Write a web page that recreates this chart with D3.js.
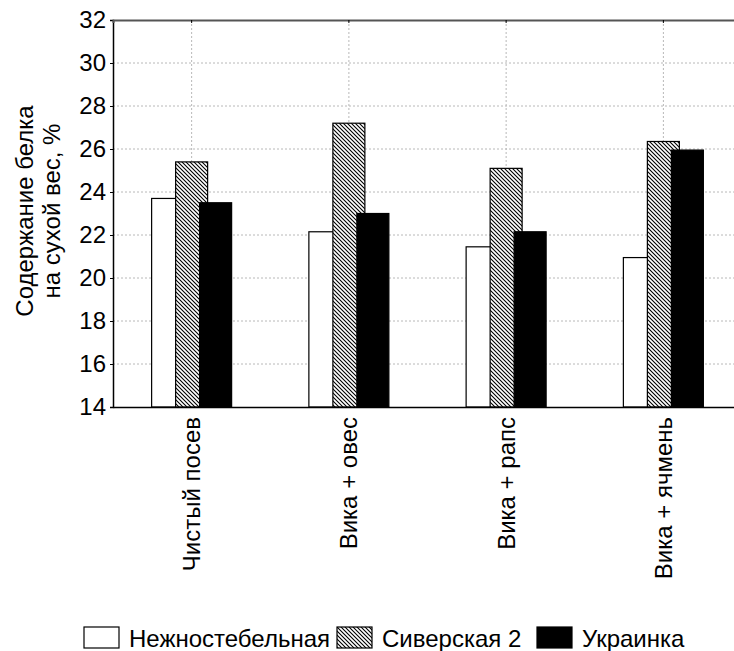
<!DOCTYPE html>
<html>
<head>
<meta charset="utf-8">
<script src="https://cdn.jsdelivr.net/npm/d3@7"></script>
<style>
  body { margin: 0; background: #fff; }
  text { font-family: "Liberation Sans", Arial, sans-serif; fill: #000; }
</style>
</head>
<body>
<svg id="chart" width="734" height="651"></svg>
<script>
'use strict';

var categories = ["Чистый посев", "Вика + овес", "Вика + рапс", "Вика + ячмень"];
var seriesNames = ["Нежностебельная", "Сиверская 2", "Украинка"];
var nezhnostebelnaya = [23.7, 22.15, 21.45, 20.95];
var siverskaya = [25.4, 27.2, 25.1, 26.35];
var ukrainka = [23.5, 23.0, 22.15, 25.95];
var yTicks = [14, 16, 18, 20, 22, 24, 26, 28, 30, 32];

var series = [nezhnostebelnaya, siverskaya, ukrainka];
var fills = ["#fff", "url(#hatch)", "#000"];

var plotLeft = 113, plotTop = 20, plotBottom = 407, plotRight = 742;
var barWidth = 32;

var svg = d3.select("#chart");

// hatch for the second series: lines going top-left to bottom-right
var pat = svg.append("defs").append("pattern")
    .attr("id", "hatch")
    .attr("patternUnits", "userSpaceOnUse")
    .attr("width", 4).attr("height", 4);
pat.append("rect").attr("width", 4).attr("height", 4).attr("fill", "#fff");
pat.append("path")
    .attr("d", "M-1,-1L5,5M3,-1L5,1M-1,3L1,5")
    .attr("stroke", "#000").attr("stroke-width", 1.1);

var x = d3.scaleBand().domain(categories).range([plotLeft, plotRight]);
var xInner = d3.scalePoint().domain(d3.range(series.length)).range([-40, 8]);
var y = d3.scaleLinear().domain([14, 32]).range([plotBottom, plotTop]);

// dotted grid
svg.append("g").selectAll("line")
    .data(yTicks.filter(t => t > 14 && t < 32))
    .enter().append("line")
    .attr("x1", plotLeft).attr("x2", 734)
    .attr("y1", d => y(d)).attr("y2", d => y(d))
    .attr("stroke", "#b8b8b8").attr("stroke-dasharray", "2,2");

svg.append("g").selectAll("line")
    .data(categories)
    .enter().append("line")
    .attr("x1", d => x(d) + x.bandwidth() / 2).attr("x2", d => x(d) + x.bandwidth() / 2)
    .attr("y1", plotTop).attr("y2", plotBottom)
    .attr("stroke", "#b8b8b8").attr("stroke-dasharray", "2,2");

// bars, one series after another so each overlaps the previous one
series.forEach(function(values, s) {
    svg.append("g").selectAll("rect")
        .data(values)
        .enter().append("rect")
        .attr("x", (d, i) => x(categories[i]) + x.bandwidth() / 2 + xInner(s))
        .attr("y", d => y(d))
        .attr("width", barWidth)
        .attr("height", d => y(14) - y(d))
        .attr("fill", fills[s])
        .attr("stroke", "#000")
        .attr("stroke-width", 1.2);
});

// y axis
var yAxis = svg.append("g")
    .attr("transform", "translate(" + plotLeft + ",0)")
    .call(d3.axisLeft(y).tickValues(yTicks).tickSize(3).tickPadding(4));
yAxis.select(".domain").attr("stroke", "#000").attr("stroke-width", 1.5);
yAxis.selectAll("text").style("font-size", "24px").attr("font-family", null);

// top frame with small ticks at categories
var topAxis = svg.append("g")
    .attr("transform", "translate(0," + plotTop + ")")
    .call(d3.axisTop(x).tickSize(-3).tickFormat(""));
topAxis.select(".domain").attr("stroke", "#555").attr("stroke-width", 2);

// bottom axis with rotated category labels
var xAxis = svg.append("g")
    .attr("transform", "translate(0," + plotBottom + ")")
    .call(d3.axisBottom(x).tickSize(0).tickPadding(0));
xAxis.select(".domain").attr("stroke", "#000").attr("stroke-width", 1.5);
xAxis.selectAll("text")
    .style("font-size", "24px")
    .attr("text-anchor", "end")
    .attr("transform", "translate(0,10) rotate(-90)")
    .attr("x", 0).attr("y", 0)
    .attr("dy", "0.35em");

// y axis title
var yTitle = svg.append("text")
    .attr("transform", "translate(33,211) rotate(-90)")
    .attr("text-anchor", "middle")
    .style("font-size", "24px");
yTitle.append("tspan").attr("x", 0).attr("y", 0).text("Содержание белка");
yTitle.append("tspan").attr("x", 0).attr("y", 27).text("на сухой вес, %");

// legend
var legendX = [84, 337, 537];
var legend = svg.append("g").selectAll("g")
    .data(seriesNames)
    .enter().append("g")
    .attr("transform", (d, i) => "translate(" + legendX[i] + ",627)");
legend.append("rect")
    .attr("width", 35).attr("height", 21)
    .attr("fill", (d, i) => fills[i])
    .attr("stroke", "#000").attr("stroke-width", 1.2);
legend.append("text")
    .attr("x", 45).attr("y", 19.5)
    .style("font-size", "24px")
    .text(d => d);
</script>
</body>
</html>
